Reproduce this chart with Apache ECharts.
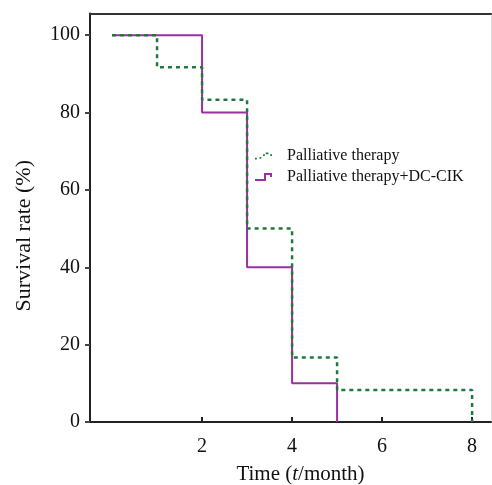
<!DOCTYPE html>
<html>
<head>
<meta charset="utf-8">
<script src="https://cdn.jsdelivr.net/npm/echarts@6/dist/echarts.min.js"></script>
<style>html,body{margin:0;padding:0;background:#fff;}#c{width:492px;height:485px;}</style>
</head>
<body>
<div id="c"></div>
<script>
var seriesNames = ['Palliative therapy', 'Palliative therapy+DC-CIK'];
var palliativeTime = [0, 1, 2, 3, 4, 5, 8];
var palliativeRate = [100, 91.7, 83.3, 50, 16.7, 8.3, 0];
var dcCikTime = [0, 2, 3, 4, 5];
var dcCikRate = [100, 80, 40, 10, 0];
var xTicks = [2, 4, 6, 8];
var yTicks = [0, 20, 40, 60, 80, 100];

function pairs(t, v) { return t.map(function (x, i) { return [x, v[i]]; }); }

var font = 'Liberation Serif, Times New Roman, serif';
var chart = echarts.init(document.getElementById('c'), null, { renderer: 'canvas' });
chart.setOption({
  animation: false,
  backgroundColor: '#fff',
  grid: { left: 90, right: 1, top: 13.5, bottom: 63, containLabel: false, outerBoundsMode: 'none' },
  legend: {
    orient: 'vertical',
    left: 255,
    top: 148,
    padding: 0,
    itemWidth: 17,
    itemHeight: 8,
    itemGap: 5,
    itemStyle: { borderWidth: 0 },
    textStyle: { fontFamily: font, fontSize: 16, color: '#111', padding: [0, 0, 0, 10], lineHeight: 16 },
    data: [
      { name: seriesNames[0], icon: 'path://M0,6h2v2h-2z M5,5h2v2h-2z M9,2h2v2h-2z M12,0h3v2h-3z M17,2h2v2h-2z' },
      { name: seriesNames[1], icon: 'path://M0,6 H9 V0 H17 V4 H15 V2 H11 V8 H0 Z' }
    ]
  },
  xAxis: [{
    type: 'value',
    min: -0.49,
    max: 8.42,
    name: 'Time ({i|t}/month)',
    nameLocation: 'middle',
    nameGap: 42,
    nameTextStyle: { fontFamily: font, fontSize: 21, color: '#111', padding: [0, 0, 0, 20], rich: { i: { fontFamily: font, fontSize: 21, fontStyle: 'italic', color: '#111' } } },
    axisLine: { show: true, onZero: false, lineStyle: { color: '#222', width: 2 } },
    axisTick: { show: true, inside: true, length: 5, customValues: xTicks, lineStyle: { color: '#222', width: 2 } },
    axisLabel: { customValues: xTicks, margin: 15, fontFamily: font, fontSize: 20, color: '#111' },
    splitLine: { show: false }
  }, {
    type: 'value', position: 'top', min: 0, max: 1,
    axisLine: { show: true, onZero: false, lineStyle: { color: '#333', width: 2 } },
    axisTick: { show: false }, axisLabel: { show: false }, splitLine: { show: false }
  }],
  yAxis: [{
    type: 'value',
    min: 0,
    max: 105.6,
    name: 'Survival rate (%)',
    nameLocation: 'middle',
    nameGap: 55,
    nameTextStyle: { fontFamily: font, fontSize: 22, color: '#111', padding: [0, 36, 0, 0] },
    axisLine: { show: true, onZero: false, lineStyle: { color: '#222', width: 2 } },
    axisTick: { show: true, inside: false, length: 5, customValues: yTicks, lineStyle: { color: '#444', width: 2 } },
    axisLabel: { customValues: yTicks, margin: 10, fontFamily: font, fontSize: 20, color: '#111' },
    splitLine: { show: false }
  }, {
    type: 'value', position: 'right', min: 0, max: 1,
    axisLine: { show: true, onZero: false, lineStyle: { color: '#ddd', width: 1 } },
    axisTick: { show: false }, axisLabel: { show: false }, splitLine: { show: false }
  }],
  series: [{
    name: seriesNames[0],
    type: 'line',
    step: 'end',
    showSymbol: false,
    color: '#1d7a3e',
    lineStyle: { color: '#1d7a3e', width: 2.5, type: [4, 4], cap: 'butt' },
    data: pairs(palliativeTime, palliativeRate),
    z: 3
  }, {
    name: seriesNames[1],
    type: 'line',
    step: 'end',
    showSymbol: false,
    color: '#9b2fa0',
    lineStyle: { color: '#9b2fa0', width: 2 },
    data: pairs(dcCikTime, dcCikRate),
    z: 2
  }]
});
</script>
</body>
</html>
